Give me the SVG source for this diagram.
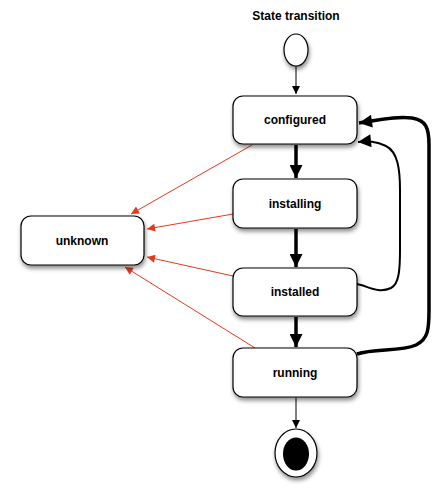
<svg xmlns="http://www.w3.org/2000/svg" width="443" height="502" viewBox="0 0 443 502">
<style>
.box{fill:#fff;stroke:#000;stroke-width:1.2;filter:url(#sh)}
.lbl{font-family:"Liberation Sans",Arial,sans-serif;font-weight:bold;font-size:12px;text-anchor:middle;fill:#000}
.red{fill:none;stroke:#e8381c;stroke-width:1}
.thin{fill:none;stroke:#000;stroke-width:1}
.thick{fill:none;stroke:#000;stroke-width:3.5}
</style>
<defs>
<filter id="sh" x="-20%" y="-20%" width="150%" height="160%">
<feDropShadow dx="1" dy="3" stdDeviation="2" flood-color="#000" flood-opacity="0.45"/>
</filter>
<marker id="mr" viewBox="0 0 10 10" refX="10" refY="5" markerWidth="11" markerHeight="8" markerUnits="userSpaceOnUse" orient="auto"><path d="M0,0L10,5L0,10z" fill="#e8381c"/></marker>
<marker id="mb" viewBox="0 0 10 10" refX="10" refY="5" markerWidth="10" markerHeight="8" markerUnits="userSpaceOnUse" orient="auto"><path d="M0,0L10,5L0,10z" fill="#000"/></marker>
<marker id="mB" viewBox="0 0 10 10" refX="10" refY="5" markerWidth="15" markerHeight="13" markerUnits="userSpaceOnUse" orient="auto"><path d="M0,0L10,5L0,10z" fill="#000"/></marker>
</defs>
<text class="lbl" x="296" y="20">State transition</text>
<g id="connectors">
<line class="thin" x1="296" y1="66" x2="296" y2="94" marker-end="url(#mb)"/>
<line class="thick" x1="296" y1="145" x2="296" y2="178" marker-end="url(#mB)"/>
<line class="thick" x1="296" y1="229" x2="296" y2="267" marker-end="url(#mB)"/>
<line class="thick" x1="296" y1="317" x2="296" y2="347" marker-end="url(#mB)"/>
<line class="thin" x1="296" y1="398" x2="296" y2="428" marker-end="url(#mb)"/>
<line class="red" x1="252" y1="145" x2="131" y2="214" marker-end="url(#mr)"/>
<line class="red" x1="233" y1="214" x2="147" y2="229" marker-end="url(#mr)"/>
<line class="red" x1="233" y1="276" x2="147" y2="257" marker-end="url(#mr)"/>
<line class="red" x1="255" y1="348" x2="125" y2="267" marker-end="url(#mr)"/>
<path d="M357,284 C368,286 378,294 391,288 C399,284 400,270 400,250 L400,190 C400,170 398,152 386,146 C376,141 368,141 358,142" fill="none" stroke="#000" stroke-width="2" marker-end="url(#mB)"/>
<path d="M357,354 C375,348 400,352 416,345 C428,339 429,330 429,310 L429,145 C429,128 426,120 412,118 C395,116 380,120 359,123" class="thick" marker-end="url(#mB)"/>
</g>
<g id="start"><ellipse cx="296" cy="50" rx="12" ry="16" fill="#fff" stroke="#000" stroke-width="1.2" filter="url(#sh)"/></g>
<g id="configured"><rect class="box" x="233" y="96" width="124" height="48" rx="10"/><text class="lbl" x="295" y="124">configured</text></g>
<g id="installing"><rect class="box" x="233" y="179" width="124" height="49" rx="10"/><text class="lbl" x="295" y="208">installing</text></g>
<g id="installed"><rect class="box" x="233" y="268" width="124" height="48" rx="10"/><text class="lbl" x="295" y="296">installed</text></g>
<g id="running"><rect class="box" x="233" y="348" width="124" height="49" rx="10"/><text class="lbl" x="295" y="377">running</text></g>
<g id="unknown"><rect class="box" x="21" y="216" width="123" height="49" rx="10"/><text class="lbl" x="82" y="245">unknown</text></g>
<g id="end"><ellipse cx="296" cy="453" rx="21" ry="24" fill="#fff" stroke="#000" stroke-width="1.2" filter="url(#sh)"/><ellipse cx="296" cy="454" rx="13" ry="16.5" fill="#000"/></g>
</svg>
